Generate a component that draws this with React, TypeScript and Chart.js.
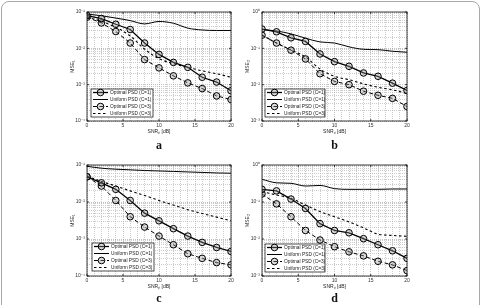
import React, { useEffect, useRef } from "react";
import { Chart, registerables } from "chart.js";

Chart.register(...registerables);

// SNR of the primary link, dB
const snrDb = [0, 2, 4, 6, 8, 10, 12, 14, 16, 18, 20];

const seriesNames = [
  "Optimal PSD (C=1)",
  "Uniform PSD (C=1)",
  "Optimal PSD (C=3)",
  "Uniform PSD (C=3)",
];

// panel a
const aOptC1 = [0.08, 0.066, 0.046, 0.033, 0.014, 0.0068, 0.0041, 0.003, 0.0016, 0.00118, 0.00068];
const aUniC1 = [0.088, 0.079, 0.068, 0.058, 0.047, 0.055, 0.049, 0.036, 0.032, 0.031, 0.031];
const aOptC3 = [0.072, 0.05, 0.029, 0.014, 0.0049, 0.0029, 0.00175, 0.00112, 0.00078, 0.00049, 0.00039];
const aUniC3 = [0.072, 0.055, 0.038, 0.022, 0.0095, 0.0052, 0.0038, 0.003, 0.0024, 0.002, 0.0016];

// panel b
const bOptC1 = [0.34, 0.285, 0.195, 0.155, 0.07, 0.043, 0.032, 0.021, 0.017, 0.011, 0.0069];
const bUniC1 = [0.33, 0.3, 0.25, 0.19, 0.15, 0.14, 0.11, 0.094, 0.092, 0.083, 0.078];
const bOptC3 = [0.23, 0.14, 0.089, 0.051, 0.02, 0.0123, 0.01, 0.0066, 0.0051, 0.0042, 0.0025];
const bUniC3 = [0.23, 0.14, 0.09, 0.058, 0.027, 0.017, 0.0137, 0.0105, 0.0085, 0.0072, 0.0057];

// panel c
const cOptC1 = [0.048, 0.033, 0.022, 0.011, 0.005, 0.0031, 0.0019, 0.0012, 0.00081, 0.00059, 0.00046];
const cUniC1 = [0.092, 0.082, 0.077, 0.074, 0.071, 0.069, 0.067, 0.065, 0.063, 0.061, 0.06];
const cOptC3 = [0.048, 0.027, 0.011, 0.004, 0.0021, 0.0012, 0.0007, 0.0004, 0.0003, 0.00023, 0.0002];
const cUniC3 = [0.05, 0.036, 0.027, 0.02, 0.015, 0.011, 0.0083, 0.0062, 0.0049, 0.0039, 0.0031];

// panel d
const dOptC1 = [0.22, 0.2, 0.12, 0.067, 0.026, 0.017, 0.0147, 0.0102, 0.007, 0.0048, 0.003];
const dUniC1 = [0.41, 0.33, 0.32, 0.27, 0.28, 0.23, 0.22, 0.22, 0.22, 0.225, 0.225];
const dOptC3 = [0.165, 0.089, 0.04, 0.017, 0.0094, 0.0062, 0.0045, 0.0035, 0.0025, 0.002, 0.0014];
const dUniC3 = [0.19, 0.155, 0.125, 0.083, 0.055, 0.04, 0.029, 0.02, 0.0135, 0.0125, 0.0118];

const xTicks = [0, 5, 10, 15, 20];

type PanelCfg = {
  letter: string;
  yTitle: string;
  yMin: number;
  yMax: number;
  series: number[][];
  rect: { l: number; t: number; r: number; b: number };
  legend: { dx: number; dy: number; w: number; h: number };
  letterY: number;
};

const panels: PanelCfg[] = [
  {
    letter: "a", yTitle: "MSE\u2081", yMin: 1e-4, yMax: 1e-1,
    series: [aOptC1, aUniC1, aOptC3, aUniC3],
    rect: { l: 87, t: 12, r: 231, b: 121 },
    legend: { dx: 4, dy: 4, w: 62, h: 28 }, letterY: 145,
  },
  {
    letter: "b", yTitle: "MSE\u2082", yMin: 1e-3, yMax: 1,
    series: [bOptC1, bUniC1, bOptC3, bUniC3],
    rect: { l: 262, t: 12, r: 407, b: 121 },
    legend: { dx: 3, dy: 4, w: 60, h: 28 }, letterY: 145,
  },
  {
    letter: "c", yTitle: "MSE\u2081", yMin: 1e-4, yMax: 1e-1,
    series: [cOptC1, cUniC1, cOptC3, cUniC3],
    rect: { l: 87, t: 165, r: 231, b: 276 },
    legend: { dx: 5, dy: 5, w: 62, h: 28 }, letterY: 298,
  },
  {
    letter: "d", yTitle: "MSE\u2082", yMin: 1e-3, yMax: 1,
    series: [dOptC1, dUniC1, dOptC3, dUniC3],
    rect: { l: 262, t: 165, r: 407, b: 276 },
    legend: { dx: 3, dy: 4, w: 60, h: 28 }, letterY: 298,
  },
];

const SUP: Record<string, string> = {
  "-": "\u207B", "0": "\u2070", "1": "\u00B9", "2": "\u00B2", "3": "\u00B3",
  "4": "\u2074", "5": "\u2075", "6": "\u2076", "7": "\u2077", "8": "\u2078", "9": "\u2079",
};
const powLabel = (e: number) => "10" + String(e).split("").map((c) => SUP[c] ?? c).join("");
const isDecade = (v: number) => {
  const e = Math.log10(v);
  return Math.abs(e - Math.round(e)) < 1e-9;
};

const FONT = '"Liberation Sans", Arial, sans-serif';

// box, axis titles, inner ticks and the legend drawn on top of the plot
const framePlugin = {
  id: "frame",
  afterDraw(chart: any, _args: any, opts: any) {
    const { ctx, chartArea: ca } = chart;
    ctx.save();
    ctx.strokeStyle = "#111";
    ctx.lineWidth = 0.8;
    ctx.setLineDash([]);
    ctx.strokeRect(ca.left, ca.top, ca.right - ca.left, ca.bottom - ca.top);

    // inner major tick marks
    const xs = chart.scales.x;
    const ys = chart.scales.y;
    ctx.beginPath();
    for (const v of xTicks) {
      const px = xs.getPixelForValue(v);
      ctx.moveTo(px, ca.bottom); ctx.lineTo(px, ca.bottom - 2);
      ctx.moveTo(px, ca.top); ctx.lineTo(px, ca.top + 2);
    }
    for (let e = Math.round(Math.log10(opts.yMin)); e <= Math.round(Math.log10(opts.yMax)); e++) {
      const py = ys.getPixelForValue(Math.pow(10, e));
      ctx.moveTo(ca.left, py); ctx.lineTo(ca.left + 2, py);
      ctx.moveTo(ca.right, py); ctx.lineTo(ca.right - 2, py);
    }
    ctx.stroke();

    // axis titles
    ctx.fillStyle = "#222";
    ctx.font = `5px ${FONT}`;
    ctx.textAlign = "center";
    ctx.textBaseline = "middle";
    ctx.fillText("SNR\u209A [dB]", (ca.left + ca.right) / 2, ca.bottom + 10.5);
    ctx.save();
    ctx.translate(ca.left - 14.5, (ca.top + ca.bottom) / 2);
    ctx.rotate(-Math.PI / 2);
    ctx.fillText(opts.yTitle, 0, 0);
    ctx.restore();

    // legend
    const lg = opts.legend;
    const bx = ca.left + lg.dx;
    const by = ca.bottom - lg.dy - lg.h;
    ctx.fillStyle = "#fff";
    ctx.fillRect(bx, by, lg.w, lg.h);
    ctx.strokeStyle = "#000";
    ctx.lineWidth = 0.7;
    ctx.strokeRect(bx, by, lg.w, lg.h);
    const rowH = lg.h / 4;
    chart.data.datasets.forEach((ds: any, i: number) => {
      const cy = by + rowH * (i + 0.5);
      ctx.save();
      ctx.strokeStyle = ds.borderColor;
      ctx.lineWidth = ds.borderWidth;
      ctx.setLineDash(ds.borderDash || []);
      ctx.beginPath();
      ctx.moveTo(bx + 2, cy);
      ctx.lineTo(bx + 17, cy);
      ctx.stroke();
      if (ds.pointRadius > 0) {
        ctx.setLineDash([]);
        ctx.lineWidth = ds.pointBorderWidth;
        ctx.fillStyle = ds.pointBackgroundColor;
        ctx.beginPath();
        ctx.arc(bx + 9.5, cy, ds.pointRadius, 0, Math.PI * 2);
        ctx.fill();
        ctx.stroke();
      }
      ctx.restore();
      ctx.fillStyle = "#222";
      ctx.font = `4.8px ${FONT}`;
      ctx.textAlign = "left";
      ctx.textBaseline = "middle";
      ctx.fillText(ds.label, bx + 19, cy + 0.3);
    });
    ctx.restore();
  },
};

function Panel({ cfg }: { cfg: PanelCfg }) {
  const ref = useRef<HTMLCanvasElement>(null);
  const { l, t, r, b } = cfg.rect;
  const width = r - l + 36;
  const height = b - t + 34;

  useEffect(() => {
    const styles = [
      { borderWidth: 1.3, borderDash: [] as number[], pointRadius: 3.3 },
      { borderWidth: 1, borderDash: [] as number[], pointRadius: 0 },
      { borderWidth: 1, borderDash: [4, 2.5], pointRadius: 3.3 },
      { borderWidth: 1.1, borderDash: [2.5, 2.5], pointRadius: 0 },
    ];
    const datasets = cfg.series.map((vals, i) => ({
      label: seriesNames[i],
      data: snrDb.map((x, k) => ({ x, y: vals[k] })),
      borderColor: "#000",
      borderWidth: styles[i].borderWidth,
      borderDash: styles[i].borderDash,
      pointRadius: styles[i].pointRadius,
      pointHoverRadius: styles[i].pointRadius,
      pointBorderWidth: 1,
      pointBorderColor: "#000",
      pointBackgroundColor: "rgba(150,150,150,0.35)",
      pointStyle: "circle",
      cubicInterpolationMode: styles[i].pointRadius === 0 ? "monotone" : "default",
      fill: false,
    }));

    const gridColor = (c: any) => {
      const v = c.tick ? c.tick.value : 0;
      const major = c.scale.axis === "x" ? xTicks.includes(v) : isDecade(v);
      return major ? "#9a9a9a" : "#ababab";
    };

    const chart = new Chart(ref.current as HTMLCanvasElement, {
      type: "line",
      data: { datasets } as any,
      plugins: [framePlugin],
      options: {
        animation: false,
        responsive: false,
        devicePixelRatio: 1,
        layout: { padding: { left: 12, top: 8, right: 8, bottom: 0 } },
        plugins: {
          legend: { display: false },
          tooltip: { enabled: false },
          frame: { yTitle: cfg.yTitle, yMin: cfg.yMin, yMax: cfg.yMax, legend: cfg.legend },
        } as any,
        scales: {
          x: {
            type: "linear",
            min: 0,
            max: 20,
            afterBuildTicks: (s: any) => {
              const ticks = [];
              for (let v = 0; v <= 20; v++) ticks.push({ value: v });
              s.ticks = ticks;
            },
            afterFit: (s: any) => { s.height = 26; },
            ticks: {
              autoSkip: false,
              maxRotation: 0,
              padding: 2,
              color: "#333",
              font: { size: 5, family: FONT },
              callback: (v: any) => (xTicks.includes(Number(v)) ? String(v) : ""),
            },
            grid: { color: gridColor, lineWidth: 0.6, drawTicks: false },
            border: { display: false, dash: [1, 1] },
          },
          y: {
            type: "logarithmic",
            min: cfg.yMin,
            max: cfg.yMax,
            afterBuildTicks: (s: any) => {
              const ticks = [];
              const e0 = Math.round(Math.log10(cfg.yMin));
              const e1 = Math.round(Math.log10(cfg.yMax));
              for (let e = e0; e <= e1; e++) {
                for (let k = 1; k <= 9; k++) {
                  const v = k * Math.pow(10, e);
                  if (v <= cfg.yMax * 1.0000001) ticks.push({ value: v });
                }
              }
              s.ticks = ticks;
            },
            afterFit: (s: any) => { s.width = 16; },
            ticks: {
              autoSkip: false,
              padding: 2,
              color: "#333",
              font: { size: 5, family: FONT },
              callback: (v: any) => (isDecade(Number(v)) ? powLabel(Math.round(Math.log10(Number(v)))) : ""),
            },
            grid: { color: gridColor, lineWidth: 0.6, drawTicks: false },
            border: { display: false, dash: [1, 1] },
          },
        },
      } as any,
    });
    return () => chart.destroy();
  }, [cfg]);

  return (
    <canvas
      ref={ref}
      width={width}
      height={height}
      style={{ position: "absolute", left: l - 28, top: t - 8, width, height }}
    />
  );
}

export default function App() {
  return (
    <div
      style={{
        position: "absolute",
        left: 0,
        top: 0,
        width: 481,
        height: 305,
        overflow: "hidden",
        background: "#fff",
      }}
    >
      <div
        style={{
          position: "absolute",
          left: 1,
          top: 1,
          width: 479,
          height: 330,
          boxSizing: "border-box",
          border: "1px solid #a8a8a8",
          borderRadius: 8,
        }}
      />
      {panels.map((p) => (
        <React.Fragment key={p.letter}>
          <Panel cfg={p} />
          <div
            style={{
              position: "absolute",
              left: (p.rect.l + p.rect.r) / 2,
              top: p.letterY,
              transform: "translate(-50%, -50%)",
              font: 'bold 12px "Liberation Serif", "Times New Roman", serif',
              color: "#111",
              lineHeight: "12px",
            }}
          >
            {p.letter}
          </div>
        </React.Fragment>
      ))}
    </div>
  );
}
